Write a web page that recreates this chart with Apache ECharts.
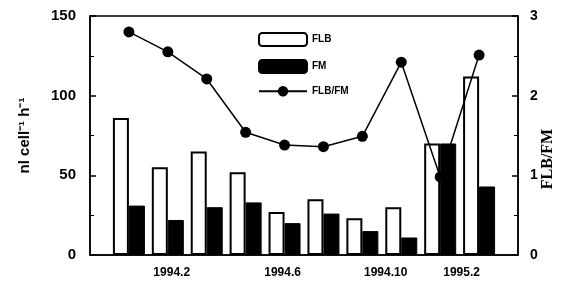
<!DOCTYPE html>
<html lang="en">
<head>
<meta charset="UTF-8">
<title>FLB / FM uptake</title>
<script src="https://cdn.jsdelivr.net/npm/echarts@6/dist/echarts.min.js"></script>
<style>
  html, body { margin: 0; padding: 0; background: #fff; }
</style>
</head>
<body>
<div id="main" style="width:573px;height:293px;"></div>
<script type="text/javascript">
    // sampling slots along the x axis (one per sampling date)
    var slots = [1, 2, 3, 4, 5, 6, 7, 8, 9, 10];
    var flbValues = [86, 55, 65, 52, 27, 35, 23, 30, 70, 112];
    var fmValues = [31, 22, 30, 33, 20, 26, 15, 11, 70, 43];
    var ratioValues = [2.80, 2.55, 2.21, 1.54, 1.38, 1.36, 1.49, 2.42, 0.98, 2.51];
    // x tick labels and where they sit on the slot scale
    var tickLabels = ['1994.2', '1994.6', '1994.10', '1995.2'];
    var tickSlots = [2.1, 4.95, 7.6, 9.55];

    function pairs(xs, ys) {
        var out = [];
        for (var i = 0; i < xs.length; i++) out.push([xs[i], ys[i]]);
        return out;
    }

    var myChart = echarts.init(document.getElementById('main'));
    var font = '"Liberation Sans", Arial, sans-serif';

    var option = {
        animation: false,
        backgroundColor: '#fff',
        grid: {
            left: 90, right: 55, top: 16, bottom: 38,
            show: true, borderColor: '#000', borderWidth: 1.5,
            backgroundColor: 'transparent'
        },
        legend: {
            orient: 'vertical',
            left: 253, top: 27,
            itemWidth: 48, itemHeight: 13, itemGap: 12,
            textStyle: { fontFamily: font, fontWeight: 'bold', fontSize: 10, color: '#000' },
            data: ['FLB', 'FM', 'FLB/FM']
        },
        // right axis title, sits lower than the axis middle
        graphic: [{
            type: 'text',
            x: 540, y: 159,
            rotation: Math.PI / 2,
            style: {
                text: 'FLB/FM',
                font: 'bold 16px "Liberation Serif", serif',
                fill: '#000',
                align: 'center',
                verticalAlign: 'top'
            }
        }],
        xAxis: {
            type: 'value', min: 0, max: 11,
            splitLine: { show: false },
            axisLine: { lineStyle: { color: '#000', width: 1.5 } },
            axisTick: { show: false },
            axisLabel: {
                customValues: tickSlots,
                formatter: function (v) {
                    var i = tickSlots.indexOf(v);
                    return i >= 0 ? tickLabels[i] : '';
                },
                fontFamily: font, fontWeight: 'bold', fontSize: 12, color: '#000', margin: 12
            }
        },
        yAxis: [{
            type: 'value', min: 0, max: 150, interval: 50,
            name: 'nl cell\u207B\u00B9 h\u207B\u00B9',
            nameLocation: 'middle', nameGap: 58, nameRotate: 90,
            nameTextStyle: { fontFamily: font, fontWeight: 'bold', fontSize: 15, color: '#000' },
            splitLine: { show: false },
            axisLine: { show: true, lineStyle: { color: '#000', width: 1.5 } },
            axisTick: { show: true, inside: true, length: 6, lineStyle: { color: '#000', width: 1.5 } },
            minorTick: { show: true, splitNumber: 2, length: 4, lineStyle: { color: '#000' } },
            axisLabel: { fontFamily: font, fontWeight: 'bold', fontSize: 15, color: '#000', margin: 14 }
        }, {
            type: 'value', min: 0, max: 3, interval: 1,
            splitLine: { show: false },
            axisLine: { show: true, lineStyle: { color: '#000', width: 1.5 } },
            axisTick: { show: true, inside: true, length: 6, lineStyle: { color: '#000', width: 1.5 } },
            minorTick: { show: true, splitNumber: 2, length: 4, lineStyle: { color: '#000' } },
            axisLabel: { fontFamily: font, fontWeight: 'bold', fontSize: 14, color: '#000', margin: 12 }
        }],
        series: [{
            name: 'FLB',
            type: 'bar',
            barWidth: 16,
            barGap: '0%',
            itemStyle: { color: '#fff', borderColor: '#000', borderWidth: 2 },
            data: pairs(slots, flbValues)
        }, {
            name: 'FM',
            type: 'bar',
            barWidth: 16,
            barGap: '0%',
            itemStyle: { color: '#000', borderColor: '#000', borderWidth: 1 },
            data: pairs(slots, fmValues)
        }, {
            name: 'FLB/FM',
            type: 'line',
            yAxisIndex: 1,
            z: 5,
            symbol: 'circle',
            symbolSize: 11,
            itemStyle: { color: '#000' },
            lineStyle: { color: '#000', width: 1.5 },
            data: pairs(slots, ratioValues)
        }]
    };

    myChart.setOption(option);
</script>
</body>
</html>
